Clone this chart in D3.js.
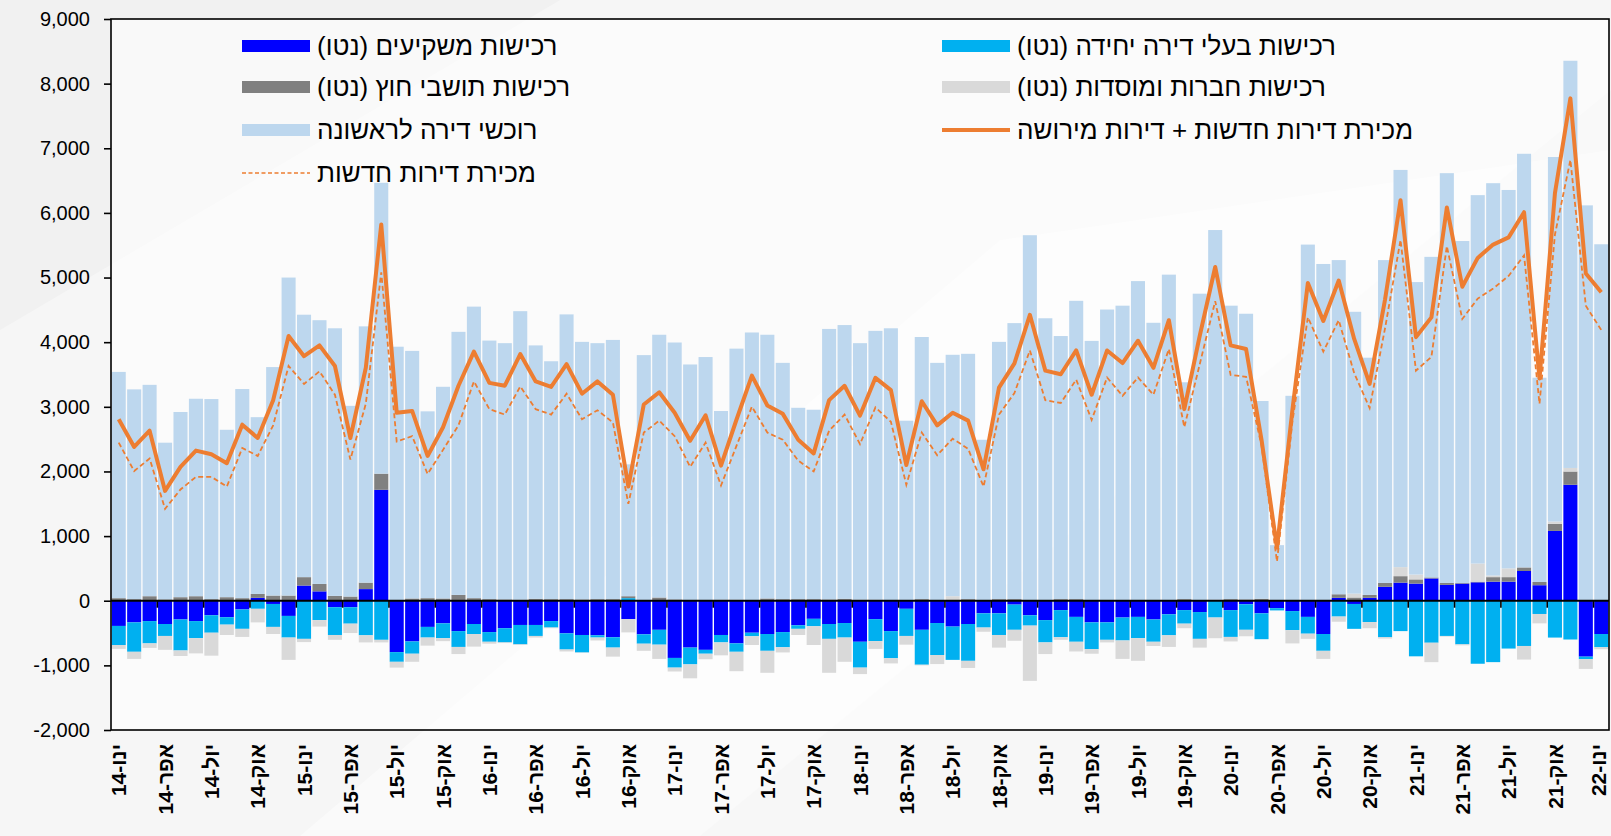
<!DOCTYPE html>
<html>
<head>
<meta charset="utf-8">
<script src="https://d3js.org/d3.v7.min.js"></script>
<style>
  body { margin: 0; background: #f1f1f1; }
  svg { display: block; }
  text { font-family: "Liberation Sans", Arial, sans-serif; fill: #000; }
</style>
</head>
<body>
<div id="chart"></div>
<script>
// months from ינו-14 to ינו-22
const monthNames = ["ינו","פבר","מרץ","אפר","מאי","יונ","יול","אוג","ספט","אוק","נוב","דצמ"];
const years = [14, 15, 16, 17, 18, 19, 20, 21, 22];

// first-time buyers
const firstTime = [3500,3245,3270,2425,2865,3055,3095,2590,3235,2735,3535,4920,
  4060,4080,4140,2950,3965,4500,3920,3830,2890,3275,4070,4510,
  4000,3965,4465,3920,3680,4405,3985,3960,4010,2040,3790,4065,
  3975,3645,3760,2920,3885,4140,4080,3655,2960,2930,4185,4235,
  3970,4160,4205,2775,4055,3670,3735,3795,2480,3980,4270,5645,
  4360,4070,4615,4010,4495,4555,4935,4290,5035,3355,4740,5720,
  4540,4420,3060,860,3170,5510,5210,5170,4360,3670,4995,6145,
  4525,4960,6340,5290,5700,6070,5855,6400,3160,5640,6300,6117,
  5515];
// investors (net)
const investors = [-390,-335,-315,-360,-290,-315,-225,-255,-135,45,-50,-235,
  235,145,-100,-100,180,1716,-795,-630,-405,-350,-470,-360,
  -485,-425,-375,-375,-315,-505,-530,-535,-565,-285,-520,-450,
  -885,-725,-760,-530,-660,-495,-515,-485,-380,-280,-360,-345,
  -635,-285,-470,-125,-450,-345,-400,-360,-195,-195,-60,-225,
  -300,-145,-250,-335,-335,-260,-250,-290,-210,-145,-175,10,
  -145,-55,-195,-115,-160,-250,-515,45,-50,45,215,280,
  265,345,245,265,285,295,295,460,240,1080,1794,-865,
  -515];
// single-apartment owners (net)
const singleOwners = [-295,-455,-345,-185,-480,-265,-270,-115,-300,-125,-355,-335,
  -590,-300,-430,-255,-535,-605,-150,-190,-165,-230,-245,-155,
  -150,-220,-300,-170,-100,-250,-270,-35,-160,40,-145,-230,
  -150,-260,-60,-115,-130,-55,-260,-235,-55,-115,-230,-225,
  -400,-340,-420,-420,-540,-495,-515,-570,-220,-335,-390,-160,
  -345,-420,-385,-415,-270,-355,-330,-345,-325,-210,-415,-260,
  -415,-395,-400,-35,-295,-260,-260,-245,-385,-330,-565,-470,
  -860,-650,-545,-675,-975,-950,-740,-700,-205,-570,-600,-40,
  -205];
// foreign residents (net)
const foreignRes = [40,25,70,20,55,70,25,55,40,60,80,80,
  130,115,75,65,100,250,10,35,40,35,90,40,
  25,20,15,30,25,25,20,25,25,30,10,50,
  20,10,10,15,15,10,35,25,25,25,20,30,
  15,15,10,10,25,10,10,25,10,25,25,10,
  10,25,25,10,10,10,10,10,10,25,10,5,
  25,20,30,0,0,0,0,55,50,45,60,100,
  65,15,30,10,10,70,70,55,50,110,205,0,
  0];
// companies and institutions (net)
const companies = [-60,-110,-70,-215,-85,-235,-355,-160,-125,-210,-110,-345,
  -50,-100,-75,-145,-110,-40,-90,-125,-125,-45,-110,-195,
  -30,-10,-10,-25,-10,-30,-5,-45,-140,-205,-110,-220,
  -60,-215,-85,-200,-300,-135,-340,-80,-95,-290,-525,-375,
  -100,-120,-80,-135,-10,-140,60,-110,-65,-195,-170,-855,
  -180,-40,-150,-70,-40,-285,-350,-65,-180,-70,-135,-320,
  -70,-100,0,0,-205,-80,-125,-80,60,-95,-20,140,
  75,-300,-10,-15,280,25,135,-210,-145,35,55,-150,
  -30];
// sales of new + second-hand apartments
const totalSales = [2808,2379,2630,1699,2072,2323,2267,2128,2724,2518,3103,4095,
  3783,3950,3632,2518,3604,5822,2908,2936,2240,2685,3326,3855,
  3370,3326,3816,3393,3309,3660,3203,3393,3187,1766,3036,3225,
  2908,2474,2869,2089,2800,3482,3020,2891,2490,2279,3103,3326,
  2864,3448,3259,2100,3086,2713,2908,2786,2033,3298,3671,4423,
  3560,3504,3872,3187,3872,3677,4022,3604,4340,2964,4100,5164,
  3950,3894,2490,819,2950,4914,4329,4953,4050,3354,4663,6195,
  4078,4384,6084,4858,5304,5510,5621,6011,3437,6306,7772,5064,
  4774];
// sales of new apartments
const newSales = [2446,2006,2201,1421,1721,1916,1916,1766,2362,2240,2713,3632,
  3354,3549,3187,2184,3047,5081,2462,2546,1961,2334,2713,3393,
  2964,2880,3315,2964,2880,3203,2808,2947,2758,1499,2602,2786,
  2546,2072,2446,1783,2395,3003,2602,2490,2167,2000,2630,2880,
  2423,2991,2769,1794,2602,2251,2507,2351,1766,2880,3214,3872,
  3103,3059,3421,2797,3454,3170,3454,3187,3894,2685,3660,4635,
  3493,3465,2400,607,2770,4384,3855,4340,3521,2981,4217,5582,
  3560,3772,5487,4359,4674,4830,5025,5343,3047,5666,6819,4563,
  4189];

const yTicks = [-2000,-1000,0,1000,2000,3000,4000,5000,6000,7000,8000,9000];

const seriesKeys = ["investors","singleOwners","foreignRes","companies","firstTime"];
const seriesColors = {
  investors: "#0000ff", singleOwners: "#00b0f0", foreignRes: "#808080",
  companies: "#d9d9d9", firstTime: "#bdd7ee"
};

// categories
const categories = [];
years.forEach(y => monthNames.forEach(m => categories.push(m + "-" + y)));
categories.length = firstTime.length;

const rows = categories.map((c, i) => ({
  cat: c, idx: i,
  investors: investors[i], singleOwners: singleOwners[i], foreignRes: foreignRes[i],
  companies: companies[i], firstTime: firstTime[i]
}));

const W = 1611, H = 836;
const plot = { left: 111, top: 19, right: 1609, bottom: 730 };

const svg = d3.select("#chart").append("svg")
  .attr("width", W).attr("height", H);

// background streaks
svg.append("rect").attr("width", W).attr("height", H).attr("fill", "#f1f1f1");
svg.append("path").attr("d", "M0,330 L560,0 L1611,0 L1611,90 L700,836 L0,836 Z")
  .attr("fill", "#ffffff").attr("opacity", 0.35);
svg.append("path").attr("d", "M300,836 L1000,240 L1611,150 L1611,836 Z")
  .attr("fill", "#ffffff").attr("opacity", 0.45);

const x = d3.scaleBand()
  .domain(categories)
  .range([plot.left, plot.right])
  .paddingInner(0.09)
  .paddingOuter(0.045);

const y = d3.scaleLinear()
  .domain([-2000, 9000])
  .range([plot.bottom, plot.top]);

// plot area
svg.append("rect")
  .attr("x", plot.left).attr("y", plot.top)
  .attr("width", plot.right - plot.left).attr("height", plot.bottom - plot.top)
  .attr("fill", "#ffffff").attr("opacity", 0.55);

// stacked bars
const stack = d3.stack().keys(seriesKeys).offset(d3.stackOffsetDiverging);
const layers = stack(rows);

svg.append("g").selectAll("g")
  .data(layers)
  .join("g")
  .attr("fill", d => seriesColors[d.key])
  .selectAll("rect")
  .data(d => d)
  .join("rect")
  .attr("x", d => x(d.data.cat))
  .attr("width", x.bandwidth())
  .attr("y", d => y(Math.max(d[0], d[1])))
  .attr("height", d => Math.abs(y(d[0]) - y(d[1])));

// lines
const step = x.step();
const cx = i => x(categories[i]) + x.bandwidth() / 2;

svg.append("path")
  .datum(newSales)
  .attr("fill", "none")
  .attr("stroke", "#ed7d31")
  .attr("stroke-width", 1.8)
  .attr("stroke-dasharray", "5,3")
  .attr("d", d3.line().x((d, i) => cx(i)).y(d => y(d)));

svg.append("path")
  .datum(totalSales)
  .attr("fill", "none")
  .attr("stroke", "#ed7d31")
  .attr("stroke-width", 4)
  .attr("stroke-linejoin", "round")
  .attr("d", d3.line().x((d, i) => cx(i)).y(d => y(d)));

// frame
svg.append("rect")
  .attr("x", plot.left).attr("y", plot.top)
  .attr("width", plot.right - plot.left).attr("height", plot.bottom - plot.top)
  .attr("fill", "none").attr("stroke", "#000").attr("stroke-width", 1.6);

// zero line with category ticks
svg.append("line")
  .attr("x1", plot.left).attr("x2", plot.right)
  .attr("y1", y(0)).attr("y2", y(0))
  .attr("stroke", "#000").attr("stroke-width", 2.2);

const tickIdx = d3.range(3, categories.length, 3);
svg.append("g").selectAll("line")
  .data(tickIdx)
  .join("line")
  .attr("x1", i => x(categories[i]) - (step - x.bandwidth()) / 2)
  .attr("x2", i => x(categories[i]) - (step - x.bandwidth()) / 2)
  .attr("y1", y(0)).attr("y2", y(0) + 7)
  .attr("stroke", "#000").attr("stroke-width", 1.6);

// y axis
const fmt = d3.format(",");
const yAxis = d3.axisLeft(y)
  .tickValues(yTicks)
  .tickSize(7)
  .tickPadding(14)
  .tickFormat(d => fmt(d).replace("−", "-"));

const gy = svg.append("g")
  .attr("transform", `translate(${plot.left},0)`)
  .call(yAxis);
gy.select(".domain").remove();
gy.selectAll("line").attr("stroke", "#000").attr("stroke-width", 1.6);
gy.selectAll("text")
  .style("font-family", "'Liberation Sans', Arial, sans-serif")
  .style("font-size", "20px")
  .attr("fill", "#000");

// x labels, every third month (last one nudged in so it stays on the page)
const labelX = d => Math.min(x(d) + x.bandwidth() / 2, W - 13);
svg.append("g").selectAll("text")
  .data(categories.filter((c, i) => i % 3 === 0))
  .join("text")
  .attr("transform", d => `translate(${labelX(d)},${plot.bottom + 14}) rotate(-90)`)
  .attr("dy", "0.36em")
  .attr("text-anchor", "end")
  .style("font-size", "21px")
  .style("font-weight", "bold")
  .text(d => d);

// legend
const legendItems = [
  { label: "רכישות משקיעים (נטו)", type: "bar", color: seriesColors.investors, col: 0, row: 0 },
  { label: "רכישות בעלי דירה יחידה (נטו)", type: "bar", color: seriesColors.singleOwners, col: 1, row: 0 },
  { label: "רכישות תושבי חוץ (נטו)", type: "bar", color: seriesColors.foreignRes, col: 0, row: 1 },
  { label: "רכישות חברות ומוסדות (נטו)", type: "bar", color: seriesColors.companies, col: 1, row: 1 },
  { label: "רוכשי דירה לראשונה", type: "bar", color: seriesColors.firstTime, col: 0, row: 2 },
  { label: "מכירת דירות חדשות + דירות מירושה", type: "line", color: "#ed7d31", col: 1, row: 2 },
  { label: "מכירת דירות חדשות", type: "dash", color: "#ed7d31", col: 0, row: 3 }
];
const colX = [242, 942];
const rowY = [46, 87, 130, 173];

const lg = svg.append("g").selectAll("g")
  .data(legendItems)
  .join("g")
  .attr("transform", d => `translate(${colX[d.col]},${rowY[d.row]})`);

lg.filter(d => d.type === "bar").append("rect")
  .attr("x", 0).attr("y", -6).attr("width", 68).attr("height", 12)
  .attr("fill", d => d.color);
lg.filter(d => d.type === "line").append("line")
  .attr("x1", 0).attr("x2", 68).attr("y1", 0).attr("y2", 0)
  .attr("stroke", d => d.color).attr("stroke-width", 4);
lg.filter(d => d.type === "dash").append("line")
  .attr("x1", 0).attr("x2", 68).attr("y1", 0).attr("y2", 0)
  .attr("stroke", d => d.color).attr("stroke-width", 1.6)
  .attr("stroke-dasharray", "4,2.5");

lg.append("text")
  .attr("x", 75)
  .attr("y", 0)
  .attr("dy", "0.35em")
  .attr("direction", "rtl")
  .style("direction", "rtl")
  .style("unicode-bidi", "embed")
  .attr("text-anchor", "end")
  .style("font-size", "26px")
  .text(d => d.label);
</script>
</body>
</html>
